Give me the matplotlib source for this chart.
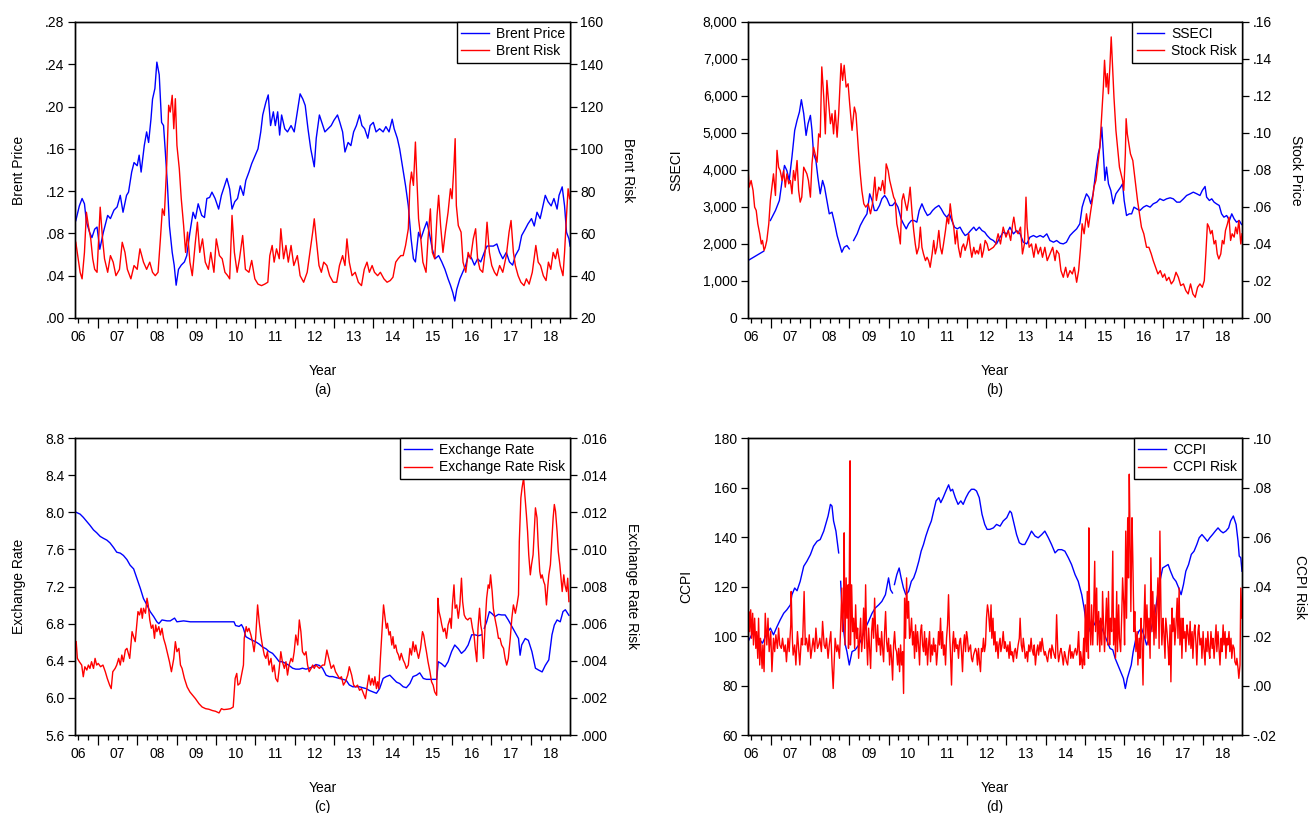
import numpy as np
import matplotlib
matplotlib.use("Agg")
import matplotlib.pyplot as plt
from matplotlib.ticker import FixedLocator, FuncFormatter, NullFormatter

plt.rcParams['font.family'] = ['Liberation Sans', 'DejaVu Sans']
plt.rcParams['font.size'] = 10

BLUE = '#0000ff'
RED = '#ff0000'

# ---------------- (a) Brent ----------------
brent_t = [2006.44, 2006.53, 2006.60, 2006.66, 2006.71, 2006.79, 2006.85, 2006.92, 2006.98, 2007.05,
           2007.14, 2007.25, 2007.32, 2007.41, 2007.49, 2007.57, 2007.64, 2007.73, 2007.78, 2007.86,
           2007.92, 2008.00, 2008.05, 2008.10, 2008.18, 2008.24, 2008.29, 2008.35, 2008.39, 2008.45,
           2008.50, 2008.56, 2008.62, 2008.67, 2008.71, 2008.77, 2008.82, 2008.89, 2008.94, 2008.99,
           2009.05, 2009.12, 2009.20, 2009.26, 2009.34, 2009.42, 2009.48, 2009.55, 2009.64, 2009.71,
           2009.77, 2009.84, 2009.90, 2009.98, 2010.07, 2010.14, 2010.22, 2010.28, 2010.35, 2010.41,
           2010.48, 2010.55, 2010.62, 2010.70, 2010.76, 2010.84, 2010.91, 2011.00, 2011.07, 2011.14,
           2011.19, 2011.27, 2011.33, 2011.39, 2011.46, 2011.51, 2011.57, 2011.62, 2011.67, 2011.75,
           2011.82, 2011.91, 2011.99, 2012.07, 2012.14, 2012.21, 2012.27, 2012.34, 2012.41, 2012.50,
           2012.55, 2012.63, 2012.69, 2012.77, 2012.85, 2012.93, 2013.00, 2013.09, 2013.15, 2013.22,
           2013.28, 2013.36, 2013.43, 2013.50, 2013.57, 2013.65, 2013.71, 2013.78, 2013.86, 2013.92,
           2014.00, 2014.07, 2014.16, 2014.25, 2014.32, 2014.40, 2014.48, 2014.53, 2014.61, 2014.67,
           2014.75, 2014.82, 2014.89, 2014.96, 2015.02, 2015.07, 2015.15, 2015.21, 2015.29, 2015.36,
           2015.42, 2015.50, 2015.57, 2015.66, 2015.74, 2015.82, 2015.90, 2015.96, 2016.02, 2016.07,
           2016.12, 2016.20, 2016.27, 2016.35, 2016.41, 2016.49, 2016.57, 2016.65, 2016.73, 2016.82,
           2016.89, 2016.97, 2017.05, 2017.14, 2017.21, 2017.29, 2017.38, 2017.46, 2017.54, 2017.61,
           2017.70, 2017.77, 2017.86, 2017.93, 2018.02, 2018.09, 2018.16, 2018.24, 2018.31, 2018.37,
           2018.44, 2018.52, 2018.59, 2018.67, 2018.72, 2018.80, 2018.86, 2018.91, 2018.97, 2019.00]
brent_price = [.092, .106, .113, .108, .091, .081, .076, .084, .086, .065,
               .081, .097, .094, .102, .105, .116, .100, .116, .119, .138,
               .147, .144, .154, .138, .163, .176, .166, .188, .207, .217,
               .242, .230, .185, .182, .160, .125, .087, .062, .050, .031,
               .046, .050, .053, .059, .081, .100, .094, .108, .097, .095,
               .113, .114, .119, .113, .103, .116, .125, .132, .122, .103,
               .110, .113, .125, .116, .130, .138, .146, .154, .160, .176,
               .192, .204, .211, .182, .195, .182, .195, .173, .192, .179,
               .176, .182, .176, .195, .212, .207, .201, .179, .160, .143,
               .170, .192, .185, .176, .179, .182, .187, .192, .185, .176,
               .157, .166, .163, .176, .182, .192, .182, .179, .170, .182,
               .185, .176, .179, .176, .181, .176, .188, .179, .170, .160,
               .141, .125, .106, .075, .056, .053, .081, .075, .084, .091,
               .081, .065, .056, .059, .053, .046, .037, .031, .024, .016,
               .027, .037, .043, .050, .059, .057, .050, .056, .053, .062,
               .068, .068, .068, .070, .062, .056, .062, .053, .050, .059,
               .065, .078, .084, .089, .094, .087, .100, .094, .106, .116,
               .110, .106, .113, .103, .116, .124, .106, .081, .075, .068]

brent_risk_t = [2006.44, 2006.50, 2006.55, 2006.60, 2006.66, 2006.71, 2006.76, 2006.82, 2006.87, 2006.92,
                2006.98, 2007.03, 2007.06, 2007.12, 2007.17, 2007.25, 2007.32, 2007.39, 2007.46, 2007.55,
                2007.62, 2007.69, 2007.75, 2007.84, 2007.92, 2008.00, 2008.07, 2008.16, 2008.24, 2008.32,
                2008.39, 2008.46, 2008.53, 2008.59, 2008.64, 2008.69, 2008.75, 2008.80, 2008.84, 2008.89,
                2008.93, 2008.97, 2009.01, 2009.07, 2009.12, 2009.18, 2009.23, 2009.28, 2009.34, 2009.40,
                2009.47, 2009.53, 2009.59, 2009.66, 2009.73, 2009.81, 2009.87, 2009.95, 2010.01, 2010.09,
                2010.16, 2010.23, 2010.30, 2010.35, 2010.41, 2010.47, 2010.54, 2010.60, 2010.68, 2010.75,
                2010.84, 2010.91, 2010.99, 2011.07, 2011.16, 2011.24, 2011.32, 2011.37, 2011.43, 2011.48,
                2011.54, 2011.61, 2011.65, 2011.72, 2011.78, 2011.84, 2011.91, 2011.98, 2012.07, 2012.14,
                2012.23, 2012.32, 2012.39, 2012.46, 2012.50, 2012.55, 2012.62, 2012.68, 2012.74, 2012.82,
                2012.89, 2012.98, 2013.07, 2013.14, 2013.22, 2013.28, 2013.33, 2013.39, 2013.46, 2013.54,
                2013.62, 2013.70, 2013.77, 2013.84, 2013.90, 2013.97, 2014.03, 2014.11, 2014.18, 2014.27,
                2014.35, 2014.43, 2014.50, 2014.57, 2014.63, 2014.70, 2014.76, 2014.82, 2014.89, 2014.93,
                2014.97, 2015.02, 2015.07, 2015.10, 2015.15, 2015.20, 2015.26, 2015.34, 2015.39, 2015.45,
                2015.50, 2015.56, 2015.62, 2015.66, 2015.71, 2015.77, 2015.83, 2015.90, 2015.96, 2016.00,
                2016.05, 2016.08, 2016.11, 2016.16, 2016.23, 2016.28, 2016.35, 2016.41, 2016.47, 2016.54,
                2016.60, 2016.65, 2016.71, 2016.78, 2016.84, 2016.89, 2016.95, 2017.01, 2017.08, 2017.14,
                2017.21, 2017.29, 2017.38, 2017.45, 2017.50, 2017.56, 2017.61, 2017.68, 2017.75, 2017.83,
                2017.89, 2017.96, 2018.04, 2018.13, 2018.19, 2018.25, 2018.32, 2018.39, 2018.45, 2018.51,
                2018.57, 2018.63, 2018.68, 2018.75, 2018.82, 2018.86, 2018.91, 2018.95, 2018.99]
brent_risk = [55.8, 48.0, 41.6, 38.5, 51.0, 70.0, 63.7, 57.4, 48.0, 43.0,
              41.6, 60.6, 72.4, 57.4, 48.0, 41.6, 49.5, 46.4, 40.0, 43.0,
              55.8, 51.0, 43.0, 38.5, 44.8, 43.0, 52.7, 46.4, 43.0, 46.4,
              41.6, 40.0, 41.6, 57.4, 71.6, 68.5, 92.2, 120.6, 117.4, 125.3,
              109.5, 123.7, 101.6, 90.6, 76.4, 63.7, 51.0, 60.6, 46.4, 40.0,
              54.3, 65.3, 51.0, 57.4, 46.4, 43.0, 51.0, 41.6, 57.4, 49.5,
              48.0, 41.6, 40.0, 38.5, 68.5, 51.0, 41.6, 48.0, 59.0, 43.0,
              41.6, 47.2, 38.5, 36.0, 35.3, 36.0, 36.9, 49.5, 54.3, 46.4,
              52.7, 48.0, 62.2, 48.0, 54.3, 46.4, 54.3, 44.8, 49.5, 40.0,
              36.9, 41.6, 51.0, 60.6, 66.9, 57.4, 44.8, 41.6, 46.4, 44.8,
              40.0, 36.9, 36.9, 44.8, 49.5, 44.8, 57.4, 46.4, 40.0, 41.6,
              36.9, 35.3, 43.0, 46.4, 41.6, 44.8, 41.6, 40.0, 41.6, 38.5,
              36.9, 37.7, 39.3, 46.4, 48.0, 49.5, 49.5, 54.3, 62.2, 82.7,
              89.0, 82.7, 103.2, 89.0, 66.9, 59.0, 46.4, 41.6, 57.4, 71.6,
              51.0, 48.0, 68.5, 78.0, 63.7, 51.0, 60.6, 70.0, 81.1, 76.4,
              92.2, 104.8, 73.2, 63.7, 60.6, 46.4, 41.6, 51.0, 48.0, 57.4,
              62.2, 48.0, 43.0, 41.6, 51.0, 65.3, 51.0, 44.8, 41.6, 40.0,
              44.8, 41.6, 49.5, 60.6, 66.1, 51.0, 44.8, 40.0, 36.9, 35.3,
              38.5, 36.0, 41.6, 54.3, 46.4, 44.8, 40.0, 37.7, 46.4, 43.0,
              51.0, 48.0, 52.7, 44.8, 40.0, 51.0, 68.5, 81.1, 76.4]

# ---------------- (b) SSECI ----------------
sse_t = [2006.42, 2006.82, 2006.88, 2006.99, 2007.12, 2007.22, 2007.29, 2007.35, 2007.41, 2007.47,
         2007.54, 2007.61, 2007.67, 2007.73, 2007.78, 2007.84, 2007.90, 2007.95, 2008.01, 2008.05,
         2008.09, 2008.15, 2008.20, 2008.26, 2008.32, 2008.37, 2008.43, 2008.49, 2008.56, 2008.63,
         2008.69, 2008.75, 2008.81, 2008.87, 2008.94, 2009.00, 2009.04, 2009.11, 2009.20, 2009.28,
         2009.37, 2009.45, 2009.52, 2009.58, 2009.64, 2009.70, 2009.77, 2009.83, 2009.90, 2009.96,
         2010.03, 2010.10, 2010.17, 2010.24, 2010.32, 2010.38, 2010.45, 2010.51, 2010.58, 2010.65,
         2010.72, 2010.78, 2010.85, 2010.92, 2010.99, 2011.06, 2011.12, 2011.19, 2011.28, 2011.34,
         2011.41, 2011.48, 2011.55, 2011.61, 2011.68, 2011.75, 2011.82, 2011.89, 2011.95, 2012.02,
         2012.09, 2012.17, 2012.23, 2012.31, 2012.38, 2012.45, 2012.51, 2012.59, 2012.67, 2012.75,
         2012.84, 2012.92, 2013.01, 2013.09, 2013.18, 2013.26, 2013.35, 2013.43, 2013.52, 2013.60,
         2013.69, 2013.77, 2013.86, 2013.94, 2014.03, 2014.11, 2014.20, 2014.28, 2014.37, 2014.45,
         2014.53, 2014.62, 2014.70, 2014.79, 2014.87, 2014.93, 2014.98, 2015.04, 2015.10, 2015.15,
         2015.21, 2015.28, 2015.34, 2015.38, 2015.43, 2015.47, 2015.51, 2015.55, 2015.60, 2015.66,
         2015.72, 2015.79, 2015.85, 2015.91, 2015.96, 2016.00, 2016.06, 2016.13, 2016.19, 2016.25,
         2016.32, 2016.40, 2016.49, 2016.57, 2016.66, 2016.74, 2016.83, 2016.91, 2017.00, 2017.08,
         2017.17, 2017.25, 2017.34, 2017.42, 2017.51, 2017.59, 2017.68, 2017.76, 2017.85, 2017.93,
         2017.99, 2018.06, 2018.10, 2018.17, 2018.23, 2018.29, 2018.35, 2018.42, 2018.48, 2018.54,
         2018.61, 2018.68, 2018.74, 2018.80, 2018.86, 2018.93, 2018.99]
sse = [1551, 1804, np.nan, 2634, 2904, 3175, 3716, 4122, 3987, 3716,
       4348, 5069, 5340, 5565, 5899, 5520, 4934, 5250, 5475, 5069,
       4438, 4257, 3806, 3355, 3716, 3536, 3175, 2814, 2859, 2544,
       2228, 2002, 1777, 1912, 1957, 1867, np.nan, 2093, 2273, 2499,
       2679, 2814, 3355, 3175, 2904, 2904, 3040, 3220, 3310, 3220,
       3040, 3040, 3130, 2995, 2679, 2544, 2408, 2544, 2634, 2634,
       2589, 2904, 3085, 2904, 2769, 2814, 2904, 2977, 3040, 2949,
       2814, 2724, 2814, 2634, 2454, 2408, 2454, 2318, 2228, 2273,
       2363, 2454, 2363, 2454, 2363, 2318, 2228, 2138, 2093, 2002,
       2183, 2318, 2273, 2454, 2273, 2363, 2273, 2048, 2002, 2183,
       2228, 2183, 2228, 2183, 2273, 2093, 2048, 2093, 2020, 2002,
       2048, 2228, 2318, 2408, 2544, 2995, 3175, 3355, 3265, 3085,
       3355, 3987, 4438, 4618, 5159, 4438, 3716, 4077, 3626, 3446,
       3085, 3355, 3446, 3536, 3626, 3175, 2769, 2814, 2814, 2995,
       2949, 2904, 2995, 3040, 2995, 3085, 3130, 3220, 3175, 3220,
       3247, 3220, 3130, 3130, 3220, 3310, 3355, 3400, 3355, 3310,
       3446, 3554, 3265, 3175, 3220, 3130, 3085, 3040, 2814, 2724,
       2769, 2634, 2814, 2679, 2589, 2634, 2526]

stock_risk_t = [2006.42, 2006.45, 2006.50, 2006.55, 2006.59, 2006.63, 2006.67, 2006.72, 2006.76, 2006.79,
                2006.83, 2006.86, 2006.90, 2006.95, 2006.99, 2007.03, 2007.07, 2007.12, 2007.16, 2007.20,
                2007.24, 2007.29, 2007.33, 2007.37, 2007.41, 2007.46, 2007.50, 2007.54, 2007.58, 2007.62,
                2007.67, 2007.71, 2007.75, 2007.79, 2007.84, 2007.88, 2007.92, 2007.96, 2008.01, 2008.05,
                2008.09, 2008.13, 2008.18, 2008.22, 2008.26, 2008.30, 2008.35, 2008.39, 2008.43, 2008.47,
                2008.52, 2008.56, 2008.60, 2008.64, 2008.69, 2008.73, 2008.79, 2008.83, 2008.87, 2008.92,
                2008.97, 2009.01, 2009.07, 2009.13, 2009.17, 2009.24, 2009.28, 2009.32, 2009.37, 2009.42,
                2009.48, 2009.54, 2009.59, 2009.65, 2009.69, 2009.75, 2009.80, 2009.85, 2009.90, 2009.94,
                2009.99, 2010.03, 2010.07, 2010.13, 2010.17, 2010.21, 2010.26, 2010.30, 2010.34, 2010.38,
                2010.43, 2010.47, 2010.51, 2010.55, 2010.60, 2010.64, 2010.68, 2010.72, 2010.77, 2010.81,
                2010.85, 2010.89, 2010.94, 2010.98, 2011.02, 2011.06, 2011.11, 2011.15, 2011.19, 2011.23,
                2011.28, 2011.32, 2011.36, 2011.40, 2011.45, 2011.49, 2011.53, 2011.57, 2011.61, 2011.66,
                2011.70, 2011.74, 2011.78, 2011.83, 2011.87, 2011.91, 2011.95, 2012.00, 2012.04, 2012.08,
                2012.12, 2012.17, 2012.21, 2012.25, 2012.29, 2012.34, 2012.38, 2012.42, 2012.46, 2012.51,
                2012.55, 2012.67, 2012.73, 2012.79, 2012.85, 2012.92, 2012.99, 2013.05, 2013.11, 2013.16,
                2013.19, 2013.24, 2013.30, 2013.36, 2013.41, 2013.46, 2013.50, 2013.53, 2013.58, 2013.64,
                2013.70, 2013.75, 2013.81, 2013.87, 2013.92, 2013.98, 2014.04, 2014.11, 2014.18, 2014.24,
                2014.28, 2014.34, 2014.39, 2014.45, 2014.51, 2014.56, 2014.62, 2014.68, 2014.73, 2014.79,
                2014.84, 2014.89, 2014.93, 2014.98, 2015.04, 2015.09, 2015.15, 2015.19, 2015.23, 2015.28,
                2015.33, 2015.38, 2015.43, 2015.47, 2015.50, 2015.54, 2015.57, 2015.60, 2015.64, 2015.67,
                2015.71, 2015.74, 2015.79, 2015.83, 2015.88, 2015.92, 2015.96, 2015.99, 2016.03, 2016.05,
                2016.08, 2016.12, 2016.16, 2016.22, 2016.26, 2016.30, 2016.34, 2016.39, 2016.44, 2016.50,
                2016.57, 2016.63, 2016.69, 2016.74, 2016.80, 2016.86, 2016.92, 2016.98, 2017.03, 2017.08,
                2017.14, 2017.20, 2017.26, 2017.32, 2017.38, 2017.44, 2017.51, 2017.57, 2017.63, 2017.69,
                2017.75, 2017.81, 2017.87, 2017.93, 2017.99, 2018.04, 2018.08, 2018.12, 2018.16, 2018.20,
                2018.24, 2018.29, 2018.33, 2018.37, 2018.41, 2018.46, 2018.50, 2018.54, 2018.58, 2018.63,
                2018.67, 2018.71, 2018.75, 2018.80, 2018.84, 2018.88, 2018.92, 2018.97, 2019.00]
stock_risk = [.0815, .0707, .0743, .0689, .0599, .0581, .0509, .0455, .0400, .0419,
              .0365, .0382, .0419, .0509, .0635, .0707, .0779, .0662, .0906, .0815,
              .0797, .0743, .0797, .0707, .0779, .0725, .0743, .0671, .0797, .0743,
              .0851, .0689, .0626, .0653, .0815, .0797, .0779, .0743, .0653, .0833,
              .0923, .0887, .0842, .0995, .0977, .1357, .1194, .0995, .1284, .1176,
              .1050, .1104, .0995, .1122, .0977, .1104, .1375, .1284, .1366, .1248,
              .1266, .1158, .1014, .1140, .1104, .0887, .0779, .0689, .0617, .0599,
              .0617, .0563, .0617, .0761, .0635, .0707, .0689, .0743, .0671, .0833,
              .0797, .0743, .0707, .0653, .0635, .0509, .0455, .0400, .0635, .0671,
              .0617, .0581, .0635, .0707, .0563, .0473, .0400, .0346, .0382, .0491,
              .0382, .0346, .0310, .0328, .0310, .0274, .0346, .0419, .0346, .0382,
              .0473, .0382, .0346, .0400, .0473, .0545, .0509, .0617, .0545, .0491,
              .0400, .0473, .0382, .0328, .0382, .0400, .0365, .0400, .0455, .0382,
              .0328, .0382, .0346, .0365, .0346, .0400, .0328, .0365, .0419, .0400,
              .0365, .0382, .0400, .0455, .0400, .0491, .0437, .0473, .0419, .0509,
              .0545, .0473, .0455, .0491, .0346, .0400, .0653, .0491, .0382, .0400,
              .0328, .0400, .0346, .0382, .0328, .0382, .0310, .0346, .0382, .0310,
              .0365, .0346, .0256, .0220, .0274, .0220, .0256, .0238, .0274, .0193,
              .0256, .0382, .0509, .0455, .0563, .0491, .0581, .0635, .0707, .0743,
              .0833, .0923, .1104, .1248, .1393, .1248, .1321, .1212, .1375, .1519,
              .1339, .1194, .1014, .0923, .0815, .0779, .0743, .0689, .0887, .1077,
              .0995, .0942, .0887, .0851, .0779, .0707, .0635, .0563, .0491, .0455,
              .0382, .0382, .0346, .0310, .0274, .0238, .0256, .0220, .0238, .0202,
              .0220, .0184, .0202, .0247, .0220, .0175, .0184, .0148, .0130, .0184,
              .0130, .0112, .0166, .0184, .0166, .0202, .0346, .0509, .0491, .0455,
              .0473, .0400, .0419, .0346, .0319, .0346, .0419, .0400, .0473, .0509,
              .0545, .0419, .0455, .0437, .0491, .0455, .0527, .0400, .0455]

# ---------------- (c) Exchange rate ----------------
fx_t = [2006.45, 2006.55, 2006.63, 2006.72, 2006.80, 2006.89, 2006.97, 2007.06, 2007.14, 2007.23,
        2007.31, 2007.40, 2007.48, 2007.57, 2007.65, 2007.74, 2007.82, 2007.91, 2007.99, 2008.08,
        2008.16, 2008.25, 2008.33, 2008.42, 2008.50, 2008.55, 2008.63, 2008.76, 2008.84, 2008.95,
        2009.01, 2009.18, 2009.35, 2009.52, 2009.69, 2009.86, 2010.03, 2010.20, 2010.38, 2010.46,
        2010.50, 2010.59, 2010.65, 2010.70, 2010.76, 2010.84, 2010.93, 2011.01, 2011.10, 2011.18,
        2011.27, 2011.35, 2011.44, 2011.52, 2011.61, 2011.69, 2011.78, 2011.86, 2011.95, 2012.03,
        2012.12, 2012.20, 2012.29, 2012.37, 2012.46, 2012.54, 2012.63, 2012.71, 2012.80, 2012.88,
        2012.97, 2013.05, 2013.14, 2013.22, 2013.31, 2013.39, 2013.48, 2013.56, 2013.65, 2013.73,
        2013.82, 2013.90, 2013.99, 2014.08, 2014.16, 2014.25, 2014.33, 2014.42, 2014.50, 2014.59,
        2014.67, 2014.76, 2014.84, 2014.93, 2015.01, 2015.10, 2015.18, 2015.27, 2015.35, 2015.44,
        2015.52, 2015.61, 2015.65, 2015.73, 2015.82, 2015.90, 2015.99, 2016.07, 2016.16, 2016.24,
        2016.33, 2016.41, 2016.50, 2016.58, 2016.67, 2016.75, 2016.79, 2016.82, 2016.88, 2016.95,
        2017.01, 2017.09, 2017.18, 2017.26, 2017.35, 2017.43, 2017.52, 2017.60, 2017.69, 2017.73,
        2017.77, 2017.86, 2017.94, 2018.03, 2018.12, 2018.20, 2018.29, 2018.37, 2018.46, 2018.54,
        2018.60, 2018.67, 2018.75, 2018.82, 2018.88, 2018.97]
fx = [8.00, 7.98, 7.946, 7.90, 7.86, 7.81, 7.78, 7.74, 7.72, 7.70,
      7.67, 7.62, 7.57, 7.56, 7.535, 7.49, 7.43, 7.39, 7.29, 7.18,
      7.07, 7.00, 6.93, 6.876, 6.82, 6.80, 6.84, 6.83, 6.83, 6.86,
      6.82, 6.83, 6.82, 6.82, 6.82, 6.82, 6.82, 6.82, 6.82, 6.82,
      6.78, 6.77, 6.79, 6.75, 6.66, 6.64, 6.62, 6.605, 6.58, 6.55,
      6.53, 6.50, 6.48, 6.44, 6.39, 6.39, 6.37, 6.35, 6.32, 6.31,
      6.31, 6.32, 6.31, 6.32, 6.335, 6.36, 6.35, 6.32, 6.245, 6.23,
      6.23, 6.22, 6.21, 6.20, 6.19, 6.14, 6.12, 6.12, 6.12, 6.11,
      6.10, 6.08, 6.065, 6.05, 6.10, 6.21, 6.23, 6.245, 6.21, 6.17,
      6.155, 6.12, 6.11, 6.155, 6.23, 6.245, 6.27, 6.21, 6.20, 6.20,
      6.20, 6.20, 6.39, 6.37, 6.335, 6.39, 6.50, 6.57, 6.53, 6.48,
      6.515, 6.57, 6.68, 6.68, 6.67, 6.68, np.nan, 6.75, 6.82, 6.93,
      6.91, 6.876, 6.90, 6.894, 6.894, 6.84, 6.77, 6.71, 6.64, 6.46,
      6.57, 6.64, 6.62, 6.50, 6.32, 6.30, 6.28, 6.35, 6.41, 6.68,
      6.785, 6.84, 6.82, 6.93, 6.95, 6.89]

fx_risk_t = [2006.45, 2006.48, 2006.53, 2006.59, 2006.63, 2006.67, 2006.72, 2006.76, 2006.80, 2006.84,
             2006.89, 2006.93, 2006.97, 2007.01, 2007.07, 2007.13, 2007.19, 2007.24, 2007.30, 2007.34,
             2007.38, 2007.44, 2007.48, 2007.53, 2007.57, 2007.61, 2007.65, 2007.70, 2007.74, 2007.81,
             2007.84, 2007.87, 2007.91, 2007.95, 2007.99, 2008.02, 2008.06, 2008.10, 2008.13, 2008.16,
             2008.21, 2008.25, 2008.28, 2008.32, 2008.36, 2008.40, 2008.44, 2008.47, 2008.50, 2008.55,
             2008.59, 2008.63, 2008.67, 2008.72, 2008.76, 2008.82, 2008.87, 2008.93, 2008.97, 2009.01,
             2009.06, 2009.10, 2009.14, 2009.20, 2009.27, 2009.34, 2009.41, 2009.48, 2009.57, 2009.65,
             2009.74, 2009.82, 2009.91, 2009.99, 2010.08, 2010.14, 2010.20, 2010.29, 2010.37, 2010.44,
             2010.49, 2010.53, 2010.56, 2010.61, 2010.66, 2010.70, 2010.72, 2010.77, 2010.80, 2010.84,
             2010.89, 2010.93, 2010.97, 2011.01, 2011.06, 2011.10, 2011.14, 2011.18, 2011.23, 2011.27,
             2011.31, 2011.35, 2011.40, 2011.44, 2011.48, 2011.52, 2011.57, 2011.61, 2011.65, 2011.69,
             2011.74, 2011.78, 2011.82, 2011.86, 2011.91, 2011.95, 2011.99, 2012.03, 2012.08, 2012.12,
             2012.16, 2012.20, 2012.25, 2012.29, 2012.33, 2012.37, 2012.42, 2012.46, 2012.50, 2012.54,
             2012.63, 2012.71, 2012.76, 2012.82, 2012.87, 2012.93, 2012.99, 2013.04, 2013.09, 2013.14,
             2013.19, 2013.24, 2013.29, 2013.35, 2013.39, 2013.45, 2013.50, 2013.55, 2013.60, 2013.65,
             2013.70, 2013.75, 2013.80, 2013.85, 2013.89, 2013.93, 2013.97, 2014.01, 2014.04, 2014.08,
             2014.11, 2014.14, 2014.18, 2014.22, 2014.26, 2014.30, 2014.33, 2014.36, 2014.40, 2014.43,
             2014.47, 2014.50, 2014.53, 2014.57, 2014.60, 2014.64, 2014.67, 2014.71, 2014.76, 2014.80,
             2014.84, 2014.89, 2014.93, 2014.97, 2015.01, 2015.05, 2015.08, 2015.11, 2015.15, 2015.20,
             2015.25, 2015.28, 2015.32, 2015.35, 2015.39, 2015.44, 2015.48, 2015.52, 2015.56, 2015.61,
             2015.64, 2015.67, 2015.71, 2015.74, 2015.78, 2015.82, 2015.86, 2015.90, 2015.95, 2015.98,
             2016.01, 2016.05, 2016.08, 2016.12, 2016.16, 2016.20, 2016.24, 2016.27, 2016.31, 2016.35,
             2016.40, 2016.44, 2016.48, 2016.52, 2016.56, 2016.59, 2016.63, 2016.66, 2016.70, 2016.73,
             2016.76, 2016.80, 2016.85, 2016.88, 2016.92, 2016.95, 2016.98, 2017.02, 2017.05, 2017.09,
             2017.14, 2017.18, 2017.22, 2017.26, 2017.31, 2017.35, 2017.39, 2017.43, 2017.48, 2017.52,
             2017.56, 2017.61, 2017.65, 2017.69, 2017.71, 2017.75, 2017.78, 2017.82, 2017.85, 2017.89,
             2017.92, 2017.95, 2017.99, 2018.02, 2018.06, 2018.09, 2018.12, 2018.16, 2018.19, 2018.23,
             2018.26, 2018.29, 2018.33, 2018.36, 2018.40, 2018.43, 2018.46, 2018.50, 2018.53, 2018.57,
             2018.60, 2018.63, 2018.67, 2018.70, 2018.74, 2018.77, 2018.80, 2018.84, 2018.87, 2018.91,
             2018.94, 2018.97]
fx_risk = [.00503, .00413, .00395, .00377, .00314, .00368, .00350, .00377, .00359, .00395,
           .00359, .00413, .00377, .00386, .00368, .00377, .00341, .00305, .00269, .00250,
           .00341, .00359, .00377, .00413, .00377, .00431, .00395, .00458, .00467, .00413,
           .00485, .00557, .00530, .00503, .00593, .00665, .00647, .00683, .00629, .00683,
           .00656, .00737, .00701, .00620, .00575, .00593, .00521, .00593, .00557, .00584,
           .00539, .00575, .00521, .00485, .00449, .00395, .00341, .00413, .00503, .00449,
           .00467, .00377, .00359, .00305, .00259, .00232, .00214, .00196, .00169, .00151,
           .00142, .00139, .00132, .00128, .00119, .00142, .00137, .00139, .00142, .00151,
           .00305, .00332, .00269, .00278, .00332, .00377, .00521, .00584, .00557, .00575,
           .00539, .00503, .00449, .00521, .00701, .00611, .00539, .00485, .00431, .00413,
           .00449, .00377, .00413, .00341, .00377, .00305, .00287, .00359, .00449, .00395,
           .00359, .00395, .00323, .00377, .00413, .00395, .00449, .00539, .00485, .00620,
           .00557, .00449, .00431, .00449, .00377, .00341, .00359, .00377, .00359, .00377,
           .00359, .00377, .00377, .00458, .00413, .00359, .00377, .00341, .00323, .00305,
           .00314, .00269, .00287, .00323, .00368, .00323, .00269, .00259, .00269, .00241,
           .00250, .00223, .00196, .00269, .00323, .00269, .00305, .00269, .00314, .00250,
           .00287, .00250, .00413, .00557, .00701, .00629, .00575, .00602, .00539, .00557,
           .00485, .00530, .00467, .00485, .00449, .00431, .00404, .00440, .00404, .00386,
           .00359, .00377, .00467, .00431, .00503, .00449, .00485, .00449, .00413, .00467,
           .00557, .00539, .00485, .00449, .00395, .00341, .00287, .00269, .00232, .00214,
           .00737, .00665, .00629, .00593, .00557, .00575, .00521, .00593, .00629, .00575,
           .00701, .00809, .00683, .00701, .00629, .00701, .00845, .00719, .00647, .00629,
           .00620, .00629, .00629, .00575, .00539, .00467, .00395, .00575, .00683, .00593,
           .00557, .00413, .00629, .00737, .00809, .00791, .00863, .00773, .00683, .00629,
           .00575, .00521, .00521, .00485, .00467, .00413, .00377, .00413, .00521, .00629,
           .00701, .00656, .00701, .00755, .01043, .01278, .01332, .01386, .01296, .01188,
           .01097, .00971, .00863, .00917, .00971, .01097, .01224, .01170, .01025, .00881,
           .00845, .00863, .00827, .00809, .00701, .00791, .00863, .00917, .01025, .01170,
           .01242, .01206, .01097, .00989, .00917, .00845, .00773, .00863, .00809, .00773,
           .00845, .00719]

# ---------------- (d) CCPI ----------------
ccpi_t = [2006.42, 2006.56, 2006.69, 2006.79, 2006.88, 2006.99, 2007.07, 2007.16, 2007.24, 2007.33,
          2007.41, 2007.50, 2007.54, 2007.61, 2007.67, 2007.75, 2007.84, 2007.92, 2008.01, 2008.09,
          2008.18, 2008.26, 2008.35, 2008.41, 2008.46, 2008.52, 2008.56, 2008.60, 2008.66, 2008.73,
          2008.755, 2008.78, 2008.81, 2008.86, 2008.90, 2008.94, 2009.00, 2009.07, 2009.15, 2009.24,
          2009.32, 2009.41, 2009.49, 2009.58, 2009.66, 2009.75, 2009.83, 2009.92, 2010.00, 2010.05,
          2010.10, 2010.125, 2010.15, 2010.21, 2010.27, 2010.32, 2010.38, 2010.44, 2010.51, 2010.58,
          2010.64, 2010.70, 2010.77, 2010.83, 2010.89, 2010.95, 2011.02, 2011.09, 2011.15, 2011.21,
          2011.28, 2011.33, 2011.39, 2011.46, 2011.53, 2011.58, 2011.63, 2011.70, 2011.77, 2011.84,
          2011.90, 2011.97, 2012.04, 2012.11, 2012.18, 2012.24, 2012.31, 2012.38, 2012.45, 2012.51,
          2012.58, 2012.67, 2012.75, 2012.84, 2012.92, 2013.01, 2013.09, 2013.13, 2013.19, 2013.26,
          2013.33, 2013.40, 2013.47, 2013.56, 2013.64, 2013.73, 2013.81, 2013.90, 2013.98, 2014.07,
          2014.15, 2014.24, 2014.32, 2014.41, 2014.49, 2014.58, 2014.66, 2014.75, 2014.83, 2014.92,
          2014.98, 2015.04, 2015.10, 2015.17, 2015.24, 2015.30, 2015.37, 2015.43, 2015.50, 2015.57,
          2015.64, 2015.71, 2015.77, 2015.84, 2015.91, 2015.98, 2016.03, 2016.08, 2016.13, 2016.18,
          2016.23, 2016.30, 2016.37, 2016.44, 2016.50, 2016.57, 2016.64, 2016.71, 2016.78, 2016.84,
          2016.91, 2016.98, 2017.05, 2017.12, 2017.18, 2017.25, 2017.32, 2017.39, 2017.45, 2017.51,
          2017.57, 2017.64, 2017.71, 2017.78, 2017.85, 2017.91, 2017.98, 2018.05, 2018.12, 2018.18,
          2018.25, 2018.32, 2018.39, 2018.46, 2018.52, 2018.59, 2018.66, 2018.71, 2018.78, 2018.85,
          2018.90, 2018.93, 2018.97, 2019.00]
ccpi = [97.7, 101.8, 99.1, 97.1, 100.5, 103.2, 100.5, 103.8, 106.5, 109.2,
        110.6, 112.6, 116.7, 119.4, 118.3, 122.1, 128.2, 130.2, 132.9, 136.3,
        138.3, 139.0, 142.4, 145.8, 148.5, 153.2, 152.5, 146.5, 142.4, 133.6,
        np.nan, 122.1, 112.6, 101.8, 96.4, 93.7, 88.3, 93.7, 94.4, 96.4,
        99.1, 103.2, 105.9, 109.2, 111.3, 112.6, 114.0, 116.7, 123.5, 118.7,
        117.4, np.nan, 120.8, 124.8, 127.5, 123.5, 119.4, 116.7, 118.0, 122.1,
        123.5, 126.2, 130.2, 134.3, 137.0, 140.4, 143.7, 146.5, 150.5, 154.6,
        155.9, 153.9, 155.9, 158.6, 161.1, 158.6, 159.3, 155.9, 153.2, 154.6,
        153.2, 155.9, 158.0, 159.3, 159.3, 158.6, 155.9, 149.2, 145.1, 143.1,
        143.1, 143.7, 145.1, 144.4, 146.5, 147.8, 150.5, 149.8, 145.8, 141.0,
        137.7, 137.0, 137.0, 139.7, 142.4, 140.4, 139.7, 141.0, 142.4, 139.7,
        137.0, 133.6, 134.9, 134.9, 134.3, 131.6, 128.9, 124.8, 122.1, 116.7,
        111.3, 104.5, 101.8, 105.9, 104.5, 107.2, 105.9, 103.2, 100.5, 97.7,
        95.0, 94.4, 91.0, 88.3, 85.6, 82.9, 78.8, 82.9, 85.6, 88.3,
        93.7, 99.1, 101.8, 103.2, 100.5, 96.4, 99.1, 104.5, 108.6, 115.3,
        122.1, 127.5, 128.2, 128.9, 126.2, 123.5, 122.1, 119.4, 116.7, 120.8,
        126.2, 128.9, 133.0, 134.3, 137.0, 139.7, 141.0, 139.7, 138.3, 139.7,
        141.0, 142.4, 143.7, 142.4, 141.7, 142.4, 143.7, 146.5, 148.5, 145.1,
        138.3, 132.3, 131.6, 126.2]

# CCPI risk, part A (2006.42 - 2009.03)
ccpi_risk_t_a = [2006.42, 2006.44, 2006.46, 2006.49, 2006.51, 2006.54, 2006.56, 2006.59, 2006.62, 2006.64,
                 2006.67, 2006.69, 2006.72, 2006.74, 2006.78, 2006.80, 2006.83, 2006.86, 2006.90, 2006.93,
                 2006.96, 2007.00, 2007.03, 2007.07, 2007.10, 2007.13, 2007.17, 2007.20, 2007.23, 2007.27,
                 2007.30, 2007.34, 2007.37, 2007.40, 2007.44, 2007.47, 2007.51, 2007.52, 2007.55, 2007.57,
                 2007.61, 2007.64, 2007.68, 2007.71, 2007.74, 2007.78, 2007.81, 2007.85, 2007.88, 2007.91,
                 2007.95, 2007.98, 2008.02, 2008.05, 2008.08, 2008.12, 2008.15, 2008.19, 2008.22, 2008.25,
                 2008.29, 2008.32, 2008.36, 2008.39, 2008.42, 2008.46, 2008.49, 2008.53, 2008.56, 2008.59,
                 2008.62, 2008.64, 2008.68, 2008.71, 2008.75, 2008.78, 2008.81, 2008.83, 2008.86, 2008.87,
                 2008.89, 2008.92, 2008.94, 2008.97, 2008.98, 2009.00, 2009.02, 2009.03]
ccpi_risk_a = [.0069, .0299, .0218, .0306, .0191, .0292, .0164, .0272, .0150, .0218,
               .0110, .0272, .0083, .0191, .0069, .0164, .0056, .0292, .0164, .0272,
               .0137, .0218, .0056, .0191, .0137, .0205, .0150, .0232, .0164, .0150,
               .0191, .0137, .0164, .0096, .0191, .0137, .0245, .0380, .0191, .0123,
               .0164, .0083, .0218, .0150, .0083, .0191, .0164, .0380, .0164, .0191,
               .0137, .0205, .0110, .0150, .0191, .0137, .0232, .0150, .0164, .0191,
               .0137, .0259, .0164, .0150, .0191, .0110, .0164, .0218, .0083, -.0012,
               .0110, .0191, .0137, .0164, .0110, .0232, .0394, .0218, .0353, .0617,
               .0164, .0435, .0272, .0407, .0150, .0435, .0908, .0164]
# part B, evenly spaced samples from 2009.06 to 2012.57
ccpi_risk_b = [.0407, .0218, .0272, .0150, .0326, .0191, .0232, .0110, .0191, .0272,
               .0137, .0191, .0313, .0150, .0407, .0191, .0083, .0232, .0150, .0069,
               .0218, .0272, .0191, .0353, .0218, .0137, .0245, .0164, .0191, .0123,
               .0218, .0150, .0096, .0218, .0299, .0177, .0137, .0191, .0083, .0164,
               .0110, .0022, .0164, .0218, .0150, .0137, .0083, .0150, .0056, .0164,
               .0083, .0137, -.0032, .0353, .0191, .0435, .0272, .0340, .0191, .0218,
               .0272, .0164, .0218, .0110, .0245, .0137, .0218, .0164, .0083, .0218,
               .0245, .0164, .0137, .0218, .0123, .0191, .0083, .0164, .0218, .0096,
               .0164, .0123, .0191, .0137, .0164, .0083, .0137, .0218, .0164, .0272,
               .0150, .0218, .0123, .0164, .0083, .0191, .0245, .0367, .0218, .0123,
               .0002, .0164, .0218, .0137, .0191, .0150, .0164, .0110, .0177, .0191,
               .0137, .0056, .0164, .0205, .0137, .0218, .0191, .0137, .0150, .0164,
               .0110, .0096, .0123, .0137, .0150, .0137, .0083, .0150, .0096, .0056,
               .0150, .0137, .0191, .0137, .0164, .0272, .0326, .0299, .0245]
# part C (2012.58 - 2019.00)
ccpi_risk_t_c = [2012.58, 2012.61, 2012.63, 2012.66, 2012.68, 2012.71, 2012.73, 2012.76, 2012.79, 2012.81,
                 2012.84, 2012.86, 2012.89, 2012.92, 2012.95, 2012.97, 2013.01, 2013.04, 2013.07, 2013.09,
                 2013.12, 2013.14, 2013.18, 2013.20, 2013.23, 2013.26, 2013.30, 2013.33, 2013.35, 2013.38,
                 2013.41, 2013.43, 2013.46, 2013.48, 2013.52, 2013.54, 2013.57, 2013.60, 2013.63, 2013.65,
                 2013.69, 2013.71, 2013.74, 2013.77, 2013.80, 2013.82, 2013.86, 2013.88, 2013.91, 2013.94,
                 2013.97, 2013.99, 2014.03, 2014.05, 2014.08, 2014.11, 2014.14, 2014.16, 2014.20, 2014.22,
                 2014.25, 2014.28, 2014.31, 2014.33, 2014.37, 2014.39, 2014.42, 2014.45, 2014.48, 2014.50,
                 2014.53, 2014.56, 2014.59, 2014.62, 2014.64, 2014.67, 2014.70, 2014.73, 2014.76, 2014.79,
                 2014.81, 2014.84, 2014.87, 2014.89, 2014.92, 2014.94, 2014.97, 2014.99, 2015.01, 2015.04,
                 2015.06, 2015.09, 2015.10, 2015.12, 2015.15, 2015.17, 2015.20, 2015.22, 2015.25, 2015.27,
                 2015.30, 2015.32, 2015.35, 2015.38, 2015.40, 2015.43, 2015.45, 2015.48, 2015.50, 2015.53,
                 2015.55, 2015.58, 2015.60, 2015.63, 2015.65, 2015.68, 2015.71, 2015.73, 2015.76, 2015.78,
                 2015.81, 2015.83, 2015.86, 2015.88, 2015.91, 2015.94, 2015.96, 2015.99, 2016.01, 2016.04,
                 2016.06, 2016.09, 2016.11, 2016.13, 2016.15, 2016.17, 2016.20, 2016.22, 2016.25, 2016.27,
                 2016.30, 2016.33, 2016.35, 2016.38, 2016.40, 2016.43, 2016.45, 2016.48, 2016.50, 2016.53,
                 2016.55, 2016.58, 2016.61, 2016.63, 2016.66, 2016.68, 2016.71, 2016.73, 2016.76, 2016.78,
                 2016.81, 2016.83, 2016.86, 2016.89, 2016.91, 2016.94, 2016.96, 2016.99, 2017.01, 2017.04,
                 2017.06, 2017.09, 2017.12, 2017.14, 2017.17, 2017.19, 2017.22, 2017.24, 2017.27, 2017.29,
                 2017.32, 2017.35, 2017.37, 2017.40, 2017.42, 2017.45, 2017.47, 2017.50, 2017.52, 2017.55,
                 2017.57, 2017.60, 2017.62, 2017.65, 2017.68, 2017.70, 2017.73, 2017.75, 2017.78, 2017.80,
                 2017.83, 2017.85, 2017.88, 2017.90, 2017.93, 2017.96, 2017.98, 2018.01, 2018.03, 2018.06,
                 2018.08, 2018.11, 2018.13, 2018.16, 2018.18, 2018.21, 2018.24, 2018.26, 2018.29, 2018.31,
                 2018.34, 2018.36, 2018.39, 2018.41, 2018.44, 2018.47, 2018.49, 2018.52, 2018.54, 2018.57,
                 2018.59, 2018.62, 2018.64, 2018.67, 2018.69, 2018.72, 2018.74, 2018.77, 2018.80, 2018.82,
                 2018.85, 2018.87, 2018.90, 2018.92, 2018.95, 2018.97, 2019.00]
ccpi_risk_c = [.0218, .0326, .0191, .0272, .0164, .0218, .0137, .0177, .0110, .0164,
               .0191, .0137, .0164, .0218, .0150, .0177, .0137, .0164, .0110, .0177,
               .0123, .0137, .0096, .0137, .0150, .0110, .0164, .0191, .0272, .0164,
               .0137, .0191, .0150, .0110, .0137, .0096, .0164, .0137, .0191, .0150,
               .0123, .0164, .0083, .0137, .0164, .0123, .0177, .0137, .0191, .0150,
               .0123, .0137, .0110, .0096, .0137, .0150, .0110, .0164, .0137, .0123,
               .0110, .0286, .0137, .0096, .0137, .0150, .0123, .0083, .0137, .0123,
               .0096, .0083, .0137, .0164, .0110, .0137, .0110, .0137, .0150, .0123,
               .0137, .0218, .0083, .0137, .0096, .0069, .0191, .0083, .0326, .0137,
               .0380, .0110, .0637, .0272, .0164, .0326, .0164, .0272, .0502, .0218,
               .0394, .0164, .0299, .0137, .0272, .0164, .0380, .0218, .0137, .0272,
               .0353, .0164, .0380, .0164, .0272, .0218, .0543, .0164, .0272, .0110,
               .0380, .0137, .0326, .0191, .0137, .0299, .0435, .0326, .0164, .0624,
               .0272, .0678, .0435, .0854, .0597, .0299, .0678, .0516, .0218, .0299,
               .0137, .0218, .0083, .0191, .0110, .0272, .0191, .0002, .0232, .0407,
               .0191, .0326, .0164, .0272, .0110, .0516, .0218, .0380, .0164, .0326,
               .0191, .0299, .0435, .0150, .0624, .0272, .0164, .0272, .0218, .0110,
               .0272, .0218, .0150, .0083, .0245, .0015, .0313, .0218, .0272, .0164,
               .0245, .0353, .0191, .0394, .0164, .0272, .0110, .0272, .0191, .0218,
               .0137, .0245, .0218, .0164, .0259, .0150, .0218, .0110, .0218, .0245,
               .0164, .0083, .0218, .0245, .0164, .0191, .0110, .0218, .0150, .0083,
               .0191, .0137, .0218, .0137, .0110, .0218, .0150, .0191, .0110, .0164,
               .0245, .0137, .0218, .0164, .0083, .0191, .0137, .0245, .0164, .0218,
               .0110, .0191, .0164, .0218, .0137, .0191, .0110, .0164, .0150, .0096,
               .0083, .0110, .0069, .0029, .0083, .0394, .0272]

ccpi_risk_t = np.concatenate([ccpi_risk_t_a,
                              np.linspace(2009.06, 2012.57, len(ccpi_risk_b)),
                              ccpi_risk_t_c])
ccpi_risk = np.concatenate([ccpi_risk_a, ccpi_risk_b, ccpi_risk_c])


def nolead(fmt):
    def f(v, pos):
        s = fmt % (round(v, 6) + 0.0)
        if s.startswith('0.'):
            s = s[1:]
        elif s.startswith('-0.'):
            s = '-' + s[2:]
        return s
    return FuncFormatter(f)


def year_label(v, pos):
    frac = v - np.floor(v)
    if abs(frac - 0.5) < 1e-6:
        return '%02d' % (int(np.floor(v)) % 100)
    return ''


def panel(rect, t1, y1, t2, y2, names, ylim1, step1, fmt1, ylim2, step2, fmt2,
          lab1, lab2, lab1_x, lab2_x, letter):
    ax = fig.add_axes(rect)
    ax2 = ax.twinx()
    l1, = ax.plot(t1, y1, color=BLUE, lw=1.0)
    l2, = ax2.plot(t2, y2, color=RED, lw=1.0)

    ax.set_xlim(2006.42, 2019.0)
    ax.set_ylim(*ylim1)
    ax.set_yticks(np.arange(ylim1[0], ylim1[1] + step1 / 2, step1))
    ax.yaxis.set_major_formatter(fmt1)
    ax2.set_ylim(*ylim2)
    ax2.set_yticks(np.arange(ylim2[0], ylim2[1] + step2 / 2, step2))
    ax2.yaxis.set_major_formatter(fmt2)

    ax.xaxis.set_major_locator(FixedLocator(np.arange(2007, 2019)))
    ax.xaxis.set_major_formatter(NullFormatter())
    quarters = [y + q for y in range(2006, 2019) for q in (0.25, 0.5, 0.75)]
    quarters = [q for q in quarters if q > 2006.42]
    ax.xaxis.set_minor_locator(FixedLocator(quarters))
    ax.xaxis.set_minor_formatter(FuncFormatter(year_label))
    ax.tick_params(axis='x', which='major', direction='out', length=7, width=0.9)
    ax.tick_params(axis='x', which='minor', direction='out', length=3.5, width=0.9,
                   pad=5, labelsize=10)
    ax.tick_params(axis='y', direction='out', length=5, width=0.9, pad=2.5, labelsize=10)
    ax2.tick_params(axis='y', direction='out', length=5, width=0.9, pad=2.5, labelsize=10)
    for a in (ax, ax2):
        for s in a.spines.values():
            s.set_linewidth(1.0)
            s.set_color('black')

    ax.text(lab1_x, 0.5, lab1, rotation=90, ha='center', va='center', fontsize=10,
            transform=ax.transAxes)
    ax.text(lab2_x, 0.5, lab2, rotation=270, ha='center', va='center', fontsize=10,
            transform=ax.transAxes)
    ax.text(0.5, -0.179, 'Year', ha='center', va='center', fontsize=10, transform=ax.transAxes)
    ax.text(0.5, -0.243, letter, ha='center', va='center', fontsize=10, transform=ax.transAxes)

    leg = ax2.legend([l1, l2], names, loc='upper right', borderaxespad=0, fontsize=10,
                     fancybox=False, framealpha=1, edgecolor='black', handlelength=2.0,
                     handletextpad=0.5, borderpad=0.35, labelspacing=0.25)
    leg.get_frame().set_linewidth(1.0)
    return ax, ax2


fig = plt.figure(figsize=(13.09, 8.13), dpi=100)

panel([0.0573, 0.6089, 0.3782, 0.3641], brent_t, brent_price, brent_risk_t, brent_risk,
      ['Brent Price', 'Brent Risk'], (0, 0.28), 0.04, nolead('%.2f'),
      (20, 160), 20, FuncFormatter(lambda v, p: '%d' % round(v)),
      'Brent Price', 'Brent Risk', -0.113, 1.117, '(a)')

panel([0.5714, 0.6089, 0.3774, 0.3641], sse_t, sse, stock_risk_t, stock_risk,
      ['SSECI', 'Stock Risk'], (0, 8000), 1000, FuncFormatter(lambda v, p: '{:,.0f}'.format(v)),
      (0, 0.16), 0.02, nolead('%.2f'),
      'SSECI', 'Stock Price', -0.145, 1.109, '(b)')

panel([0.0573, 0.0959, 0.3782, 0.3653], fx_t, fx, fx_risk_t, fx_risk,
      ['Exchange Rate', 'Exchange Rate Risk'], (5.6, 8.8), 0.4, FuncFormatter(lambda v, p: '%.1f' % v),
      (0, 0.016), 0.002, nolead('%.3f'),
      'Exchange Rate', 'Exchange Rate Risk', -0.113, 1.125, '(c)')

panel([0.5714, 0.0959, 0.3774, 0.3653], ccpi_t, ccpi, ccpi_risk_t, ccpi_risk,
      ['CCPI', 'CCPI Risk'], (60, 180), 20, FuncFormatter(lambda v, p: '%d' % round(v)),
      (-0.02, 0.10), 0.02, nolead('%.2f'),
      'CCPI', 'CCPI Risk', -0.124, 1.118, '(d)')

fig.savefig('out.png', dpi=100)
